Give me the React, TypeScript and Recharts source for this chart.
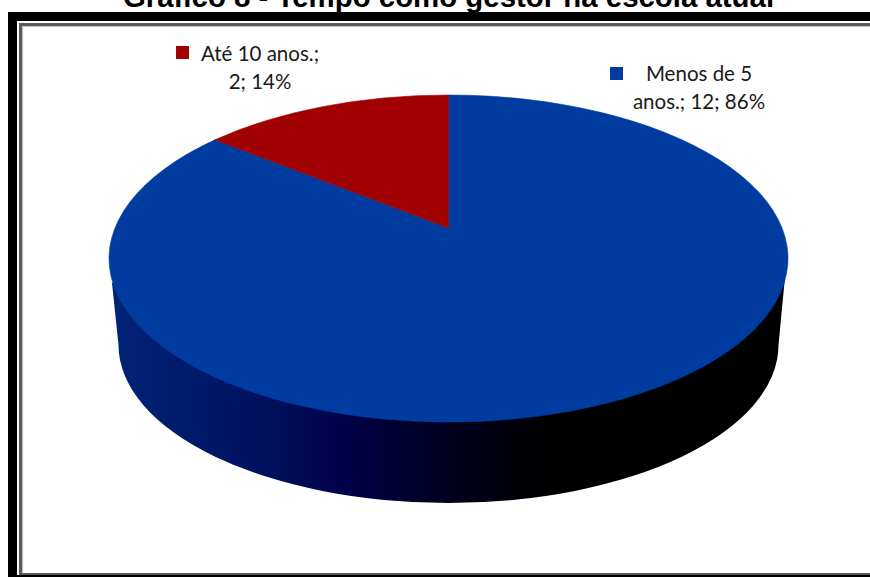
import { PieChart, Pie, Cell } from "recharts";

const categories = ["Menos de 5 anos.", "Até 10 anos."];
const counts = [12, 2];
const sliceColors = ["#003c9f", "#a10000"];

const pieData = categories.map((name, i) => ({ name, value: counts[i] }));

const WIDTH = 870;
const HEIGHT = 577;

// top face: an ellipse whose centre point sits above the middle (perspective)
const CX = 448.5;
const CY = 258.5;
const RX = 339.5;
const RY = 163.5;
const APEX_SHIFT = -0.1865;

// bottom rim of the wall, slightly smaller because it is further away
const BASE_CX = 448.5;
const BASE_CY = 345;
const BASE_RX = 330;
const BASE_RY = 158;

const LABEL_FONT = "Lato, sans-serif";
const labelPlacement = [
  { keyX: 610, keyY: 67, textX: 699, textY: 81, line: 28 },
  { keyX: 176, keyY: 46, textX: 260, textY: 61, line: 28 },
];

function project(angle: number, cx: number, cy: number, radius: number) {
  const rad = (angle * Math.PI) / 180;
  const u = Math.cos(rad);
  const v = -Math.sin(rad);
  const w = 1 + APEX_SHIFT * v;
  const nx = (Math.sqrt(1 - APEX_SHIFT * APEX_SHIFT) * u) / w;
  const ny = (v + APEX_SHIFT) / w;
  return { x: cx + radius * nx, y: cy + radius * (RY / RX) * ny };
}

function PerspectiveSlice(props: any) {
  const { cx, cy, outerRadius, startAngle, endAngle, fill } = props;
  const from = project(startAngle, cx, cy, outerRadius);
  const to = project(endAngle, cx, cy, outerRadius);
  const apex = { x: cx, y: cy + outerRadius * (RY / RX) * APEX_SHIFT };
  const ry = outerRadius * (RY / RX);
  const large = Math.abs(endAngle - startAngle) > 180 ? 1 : 0;
  const top = `M${apex.x},${apex.y} L${from.x},${from.y} A${outerRadius},${ry} 0 ${large} 1 ${to.x},${to.y} Z`;

  // only a slice that passes the front of the pie shows a wall
  const showsWall = startAngle >= -90 && endAngle <= -90;
  const dx = BASE_CX - CX;
  const wall = `M${cx - outerRadius + 3},${cy + 24.5} L${cx + dx - BASE_RX},${cy + BASE_CY - CY} A${BASE_RX},${BASE_RY} 0 0 0 ${cx + dx + BASE_RX},${cy + BASE_CY - CY} L${cx + outerRadius - 3},${cy + 18.5} Z`;

  return (
    <g>
      {showsWall && <path d={wall} fill="url(#wallShade)" />}
      <path d={top} fill={fill} stroke={fill} strokeWidth={0.6} />
    </g>
  );
}

function SliceLabel(props: any) {
  const { index, name, value, percent } = props;
  const place = labelPlacement[index];
  const words = `${name}; ${value}; ${Math.round(percent * 100)}%`.split(" ");
  return (
    <g>
      <rect x={place.keyX} y={place.keyY} width={13} height={13} fill={sliceColors[index]} />
      <text x={place.textX} y={place.textY} textAnchor="middle" fontFamily={LABEL_FONT} fontSize={20.5} fill="#1a1a1a">
        <tspan x={place.textX}>{words.slice(0, 3).join(" ")}</tspan>
        <tspan x={place.textX} dy={place.line}>{words.slice(3).join(" ")}</tspan>
      </text>
    </g>
  );
}

export default function App() {
  return (
    <div style={{ position: "absolute", left: 0, top: 0, width: WIDTH, height: HEIGHT, overflow: "hidden", background: "#fff" }}>
      <div
        style={{
          position: "absolute",
          left: 0,
          width: 897,
          top: -18,
          textAlign: "center",
          fontFamily: "'Liberation Sans', Arial, sans-serif",
          fontWeight: 700,
          fontSize: 29.4,
          lineHeight: "30px",
          color: "#000",
          whiteSpace: "nowrap",
        }}
      >
        Gráfico 8 - Tempo como gestor na escola atual
      </div>

      {/* heavy double frame, runs off the right edge */}
      <div style={{ position: "absolute", left: 8, top: 12, width: 900, height: 565, background: "#000" }} />
      <div style={{ position: "absolute", left: 17, top: 21, width: 900, height: 554, background: "#fff" }} />
      <div style={{ position: "absolute", left: 19, top: 23, width: 900, height: 552, background: "#5a5a5a" }} />
      <div style={{ position: "absolute", left: 22, top: 26, width: 900, height: 547, background: "#fff", boxShadow: "inset 1px 1px 1px #bbb" }} />

      <div style={{ position: "absolute", left: 0, top: 0 }}>
        <PieChart width={WIDTH} height={HEIGHT} margin={{ top: 0, right: 0, bottom: 0, left: 0 }}>
          <defs>
            <linearGradient id="wallShade" gradientUnits="userSpaceOnUse" x1="112" y1="0" x2="545" y2="0">
              <stop offset="0" stopColor="#002478" />
              <stop offset="0.4" stopColor="#000d5a" />
              <stop offset="0.55" stopColor="#000046" />
              <stop offset="0.78" stopColor="#00001e" />
              <stop offset="1" stopColor="#000000" />
            </linearGradient>
          </defs>
          <Pie
            data={pieData}
            dataKey="value"
            nameKey="name"
            cx={CX}
            cy={CY}
            outerRadius={RX}
            startAngle={90}
            endAngle={-270}
            stroke="none"
            shape={PerspectiveSlice}
            label={SliceLabel}
            labelLine={false}
            isAnimationActive={false}
          >
            {pieData.map((d, i) => (
              <Cell key={d.name} fill={sliceColors[i]} />
            ))}
          </Pie>
        </PieChart>
      </div>
    </div>
  );
}
